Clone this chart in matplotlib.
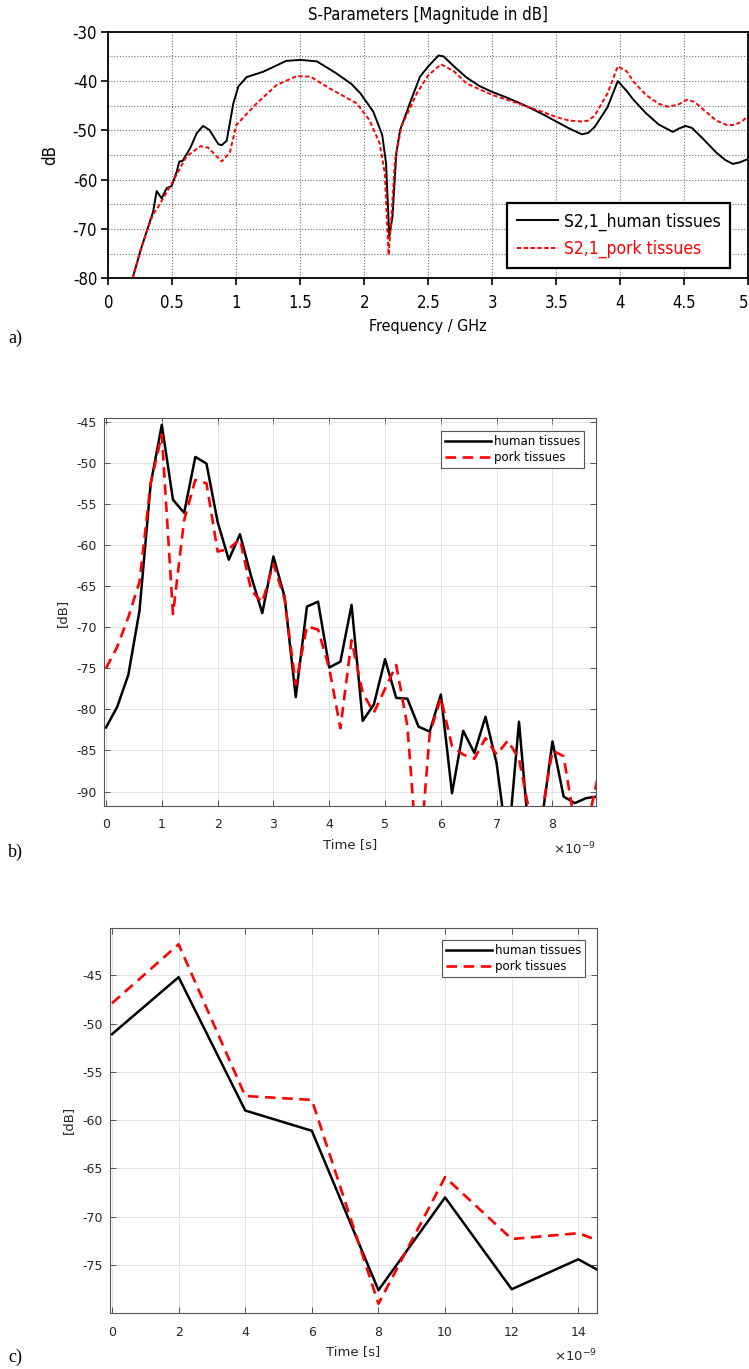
import numpy as np
import matplotlib.pyplot as plt
from matplotlib.ticker import MultipleLocator

plt.rcParams['axes.unicode_minus'] = False

W, H = 749, 1369

# ---- panel a: S21 magnitude vs frequency (GHz, dB)
freq_h = [0.19, 0.25, 0.30, 0.35, 0.378, 0.417, 0.456, 0.495, 0.534, 0.555, 0.58, 0.64, 0.69, 0.74,
          0.79, 0.86, 0.886, 0.925, 0.977, 1.016, 1.08, 1.21, 1.30, 1.39, 1.50, 1.63, 1.78, 1.90, 1.97,
          2.07, 2.14, 2.17, 2.195, 2.22, 2.25, 2.28, 2.36, 2.435, 2.50, 2.58, 2.62, 2.70, 2.80, 2.90,
          3.00, 3.10, 3.20, 3.30, 3.40, 3.50, 3.60, 3.70, 3.75, 3.80, 3.90, 3.98, 4.05, 4.10, 4.20,
          4.30, 4.41, 4.46, 4.51, 4.56, 4.65, 4.75, 4.82, 4.88, 4.93, 5.00]
mag_h = [-80.0, -74.5, -70.5, -66.5, -62.3, -63.8, -61.7, -61.3, -58.4, -56.3, -56.2, -53.6, -50.6, -49.1,
         -49.9, -52.8, -53.0, -52.1, -44.5, -41.1, -39.2, -38.1, -37.0, -35.9, -35.7, -36.0, -38.4, -40.6, -42.5,
         -46.2, -50.9, -56.7, -71.6, -67.5, -54.6, -49.9, -44.2, -39.1, -37.0, -34.8, -35.0, -37.0, -39.3, -41.0,
         -42.2, -43.2, -44.3, -45.5, -46.8, -48.2, -49.6, -50.8, -50.5, -49.3, -45.3, -40.0, -42.0, -43.7, -46.5,
         -48.8, -50.3, -49.6, -49.1, -49.5, -51.8, -54.5, -56.0, -56.8, -56.5, -55.8]

freq_p = [0.19, 0.25, 0.30, 0.35, 0.39, 0.45, 0.51, 0.61, 0.72, 0.78, 0.886, 0.95, 1.00, 1.16, 1.315,
          1.47, 1.58, 1.73, 1.94, 2.04, 2.12, 2.16, 2.19, 2.21, 2.24, 2.29, 2.41, 2.50, 2.60, 2.70, 2.80,
          3.00, 3.20, 3.40, 3.50, 3.60, 3.70, 3.75, 3.80, 3.90, 3.98, 4.05, 4.10, 4.20, 4.30, 4.37, 4.45,
          4.52, 4.58, 4.65, 4.75, 4.84, 4.90, 4.95, 5.00]
mag_p = [-80.0, -74.5, -70.5, -67.0, -65.5, -62.8, -60.1, -55.3, -53.2, -53.5, -56.3, -54.5, -48.9, -44.5, -40.8,
         -39.0, -39.1, -41.5, -44.5, -47.9, -52.6, -58.7, -75.3, -68.2, -56.0, -49.2, -42.5, -38.8, -36.6, -38.0, -40.5,
         -42.8, -44.5, -46.3, -47.3, -48.0, -48.2, -48.0, -47.0, -42.5, -37.0, -38.0, -40.0, -42.8, -44.6, -45.2, -44.8,
         -43.8, -44.2, -45.8, -48.0, -49.0, -48.8, -48.2, -47.0]
freq_ticks = [0, 0.5, 1, 1.5, 2, 2.5, 3, 3.5, 4, 4.5, 5]

# ---- panel b: impulse response (time in ns, dB)
t_b = np.arange(45) * 0.2
imp_h = [-82.2, -79.7, -75.8, -68.0, -52.6, -45.4, -54.5, -56.1, -49.3, -50.1, -57.2, -61.8, -58.7, -63.8, -68.3,
         -61.4, -66.3, -78.5, -67.5, -66.9, -74.9, -74.2, -67.3, -81.4, -79.4, -73.9, -78.6, -78.7, -82.1, -82.7,
         -78.2, -90.2, -82.6, -85.3, -80.9, -86.6, -97.0, -81.5, -97.0, -94.0, -83.9, -90.6, -91.4, -90.8, -90.6]
imp_p = [-75.0, -72.4, -68.8, -64.5, -52.5, -46.6, -68.4, -57.0, -52.1, -52.5, -60.8, -60.5, -59.3, -65.5, -67.0,
         -62.3, -66.6, -77.0, -69.9, -70.3, -75.0, -82.3, -71.6, -78.0, -80.4, -77.5, -74.6, -82.0, -100.0, -83.0,
         -78.6, -84.5, -85.5, -86.0, -83.5, -85.5, -83.8, -86.0, -93.0, -93.0, -85.0, -85.7, -94.0, -95.0, -88.6]

# ---- panel c: coarse time response
t_c = [0, 2, 4, 6, 8, 10, 12, 14, 16]
coarse_h = [-51.1, -45.2, -59.0, -61.1, -77.6, -68.0, -77.5, -74.4, -78.2]
coarse_p = [-47.9, -41.8, -57.5, -57.9, -79.0, -65.9, -72.3, -71.7, -74.2]


def rect(x0, y0, x1, y1):
    # pixel box -> figure fraction
    return [x0 / W, 1 - y1 / H, (x1 - x0) / W, (y1 - y0) / H]


def fpos(x, y):
    return x / W, 1 - y / H


fig = plt.figure(figsize=(W / 100, H / 100), dpi=100)

# ================= a)
fa = dict(family='DejaVu Sans', stretch='condensed')
ax1 = fig.add_axes(rect(108.3, 31.8, 748.3, 278.3))
ax1.plot(freq_h, mag_h, color='black', lw=1.4, label='S2,1_human tissues')
ax1.plot(freq_p, mag_p, color='red', lw=1.4, dashes=(2.2, 1.3), label='S2,1_pork tissues')
ax1.set_xlim(0, 5)
ax1.set_ylim(-80, -30)
ax1.set_xticks(freq_ticks)
ax1.yaxis.set_major_locator(MultipleLocator(10))
ax1.yaxis.set_minor_locator(MultipleLocator(5))
ax1.set_xticklabels([])
ax1.grid(True, which='both', color='#707070', lw=0.8, ls=(0, (1, 1.6)))
for s in ax1.spines.values():
    s.set_color('black')
    s.set_linewidth(1.3)
ax1.tick_params(which='major', direction='out', length=5, width=1.2, labelsize=12, pad=3)
ax1.tick_params(which='minor', length=0)
for lab in ax1.get_yticklabels():
    lab.set_fontproperties(fa)
    lab.set_fontsize(12)
for v in freq_ticks:
    xx = min(108.3 + v * 128, 744)
    fig.text(*fpos(xx, 303), '%g' % v, ha='center', va='center', fontsize=12, **fa)
fig.text(*fpos(428, 15), 'S-Parameters [Magnitude in dB]', ha='center', va='center', fontsize=12, **fa)
fig.text(*fpos(50, 155), 'dB', ha='center', va='center', rotation=90, fontsize=12, **fa)
fig.text(*fpos(428, 326), 'Frequency / GHz', ha='center', va='center', fontsize=11.5, **fa)
fig.text(*fpos(8, 338), 'a)', ha='left', va='center', fontsize=13, family='Liberation Serif')
leg = ax1.legend(loc='lower right', bbox_to_anchor=((730 - 108.3) / 640, (278.3 - 268) / 246.5),
                 fancybox=False, framealpha=1, edgecolor='black', borderaxespad=0,
                 prop=dict(family='DejaVu Sans', stretch='condensed', size=12.5),
                 handlelength=2.4, handletextpad=0.3, labelspacing=0.55, borderpad=0.55)
leg.get_frame().set_linewidth(1.6)
leg.get_texts()[1].set_color('red')


# ================= b) and c)
def matlab_axes(ax):
    ax.grid(True, color='#e3e3e3', lw=0.7)
    ax.set_axisbelow(True)
    for s in ax.spines.values():
        s.set_color('#555555')
        s.set_linewidth(0.8)
    ax.tick_params(direction='in', top=True, right=True, length=4, width=0.7, color='#555555',
                   labelcolor='#262626', labelsize=9)
    ax.tick_params(axis='x', pad=9)
    ax.tick_params(axis='y', pad=5)


def matlab_legend(ax, x1, y0):
    lg = ax.legend(loc='upper right', bbox_to_anchor=(x1, y0), bbox_transform=fig.transFigure,
                   fancybox=False, framealpha=1, edgecolor='#555555', borderaxespad=0,
                   prop=dict(family='DejaVu Sans', size=8.5), handlelength=3.9, handletextpad=0.2,
                   labelspacing=0.25, borderpad=0.35)
    lg.get_frame().set_linewidth(0.8)
    return lg


ax2 = fig.add_axes(rect(104, 418.3, 596, 806))
ax2.plot(t_b, imp_h, color='black', lw=1.8, label='human tissues')
ax2.plot(t_b, imp_p, color='red', lw=1.9, dashes=(4, 2.5), label='pork tissues')
ax2.set_xlim(-0.036, 8.78)
ax2.set_ylim(-91.75, -44.6)
ax2.xaxis.set_major_locator(MultipleLocator(1))
ax2.yaxis.set_major_locator(MultipleLocator(5))
matlab_axes(ax2)
matlab_legend(ax2, 584 / W, 1 - 431 / H)
fig.text(*fpos(62, 613), '[dB]', ha='center', va='center', rotation=90, fontsize=9.5, color='#262626')
fig.text(*fpos(350, 845), 'Time [s]', ha='center', va='center', fontsize=9.5, color='#262626')
fig.text(*fpos(596, 849), r'$\times$10$^{-9}$', ha='right', va='center', fontsize=9.5, color='#262626')
fig.text(*fpos(8, 852), 'b)', ha='left', va='center', fontsize=13, family='Liberation Serif')

ax3 = fig.add_axes(rect(110, 928.3, 597.3, 1313))
ax3.plot(t_c, coarse_h, color='black', lw=1.8, label='human tissues')
ax3.plot(t_c, coarse_p, color='red', lw=1.9, dashes=(4, 2.5), label='pork tissues')
ax3.set_xlim(-0.06, 14.57)
ax3.set_ylim(-79.96, -40.14)
ax3.xaxis.set_major_locator(MultipleLocator(2))
ax3.yaxis.set_major_locator(MultipleLocator(5))
matlab_axes(ax3)
matlab_legend(ax3, 585 / W, 1 - 940 / H)
fig.text(*fpos(68, 1120), '[dB]', ha='center', va='center', rotation=90, fontsize=9.5, color='#262626')
fig.text(*fpos(353, 1352), 'Time [s]', ha='center', va='center', fontsize=9.5, color='#262626')
fig.text(*fpos(597, 1356), r'$\times$10$^{-9}$', ha='right', va='center', fontsize=9.5, color='#262626')
fig.text(*fpos(8, 1357), 'c)', ha='left', va='center', fontsize=13, family='Liberation Serif')

fig.savefig('out.png', dpi=100)
